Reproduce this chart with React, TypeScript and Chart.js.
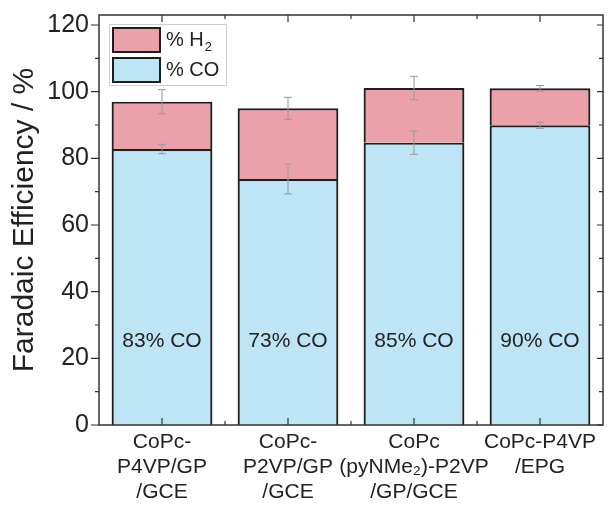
import React, { useEffect, useRef } from "react";
import { Chart, registerables } from "chart.js";

Chart.register(...registerables);

const categories: string[][] = [
  ["CoPc-", "P4VP/GP", "/GCE"],
  ["CoPc-", "P2VP/GP", "/GCE"],
  ["CoPc", "(pyNMe₂)-P2VP", "/GP/GCE"],
  ["CoPc-P4VP", "/EPG"],
];
const coValues = [82.8, 73.8, 84.7, 89.9];
const h2Values = [14.2, 21.2, 16.4, 11.1];
const coErrors = [1.4, 4.5, 3.5, 0.9];
const h2Errors = [3.6, 3.3, 3.5, 0.85];
const barLabels = ["83% CO", "73% CO", "85% CO", "90% CO"];
const barLabelValue = 25;
const yTicks = [0, 20, 40, 60, 80, 100, 120];
const yMinorTicks = [10, 30, 50, 70, 90, 110];

const FONT = '"Liberation Sans", Arial, Helvetica, sans-serif';
const CO_COLOR = "#BEE5F5";
const H2_COLOR = "#EBA1A9";
const EDGE = "#1e1e1e";
const AXIS = "#333333";

const decorPlugin = {
  id: "decor",
  afterDatasetsDraw(chart: any) {
    const ctx = chart.ctx;
    const x = chart.scales.x;
    const y = chart.scales.y;
    const ca = chart.chartArea;
    ctx.save();

    // error bars
    ctx.strokeStyle = "#9a9a9a";
    ctx.lineWidth = 1;
    const drawErr = (i: number, center: number, err: number) => {
      const px = x.getPixelForValue(i);
      const y1 = y.getPixelForValue(center + err);
      const y2 = y.getPixelForValue(center - err);
      ctx.beginPath();
      ctx.moveTo(px, y1);
      ctx.lineTo(px, y2);
      ctx.moveTo(px - 4, y1);
      ctx.lineTo(px + 4, y1);
      ctx.moveTo(px - 4, y2);
      ctx.lineTo(px + 4, y2);
      ctx.stroke();
    };
    coValues.forEach((v, i) => {
      drawErr(i, v, coErrors[i]);
      drawErr(i, v + h2Values[i], h2Errors[i]);
    });

    // in-bar labels
    ctx.fillStyle = "#222";
    ctx.font = `21px ${FONT}`;
    ctx.textAlign = "center";
    ctx.textBaseline = "middle";
    barLabels.forEach((t, i) => {
      ctx.fillText(t, x.getPixelForValue(i), y.getPixelForValue(barLabelValue));
    });

    // frame
    ctx.strokeStyle = AXIS;
    ctx.lineWidth = 1.5;
    ctx.strokeRect(ca.left, ca.top, ca.right - ca.left, ca.bottom - ca.top);

    ctx.lineWidth = 1.2;
    ctx.beginPath();
    yTicks.forEach((v) => {
      const py = y.getPixelForValue(v);
      ctx.moveTo(ca.left - 8, py);
      ctx.lineTo(ca.left, py);
      ctx.moveTo(ca.right, py);
      ctx.lineTo(ca.right - 6, py);
    });
    yMinorTicks.forEach((v) => {
      const py = y.getPixelForValue(v);
      ctx.moveTo(ca.left - 4, py);
      ctx.lineTo(ca.left, py);
      ctx.moveTo(ca.right, py);
      ctx.lineTo(ca.right - 4, py);
    });
    categories.forEach((_, i) => {
      const px = x.getPixelForValue(i);
      ctx.moveTo(px, ca.bottom);
      ctx.lineTo(px, ca.bottom - 7);
      ctx.moveTo(px, ca.top);
      ctx.lineTo(px, ca.top + 7);
      if (i > 0) {
        const bx = (px + x.getPixelForValue(i - 1)) / 2;
        ctx.moveTo(bx, ca.bottom);
        ctx.lineTo(bx, ca.bottom - 4);
        ctx.moveTo(bx, ca.top);
        ctx.lineTo(bx, ca.top + 4);
      }
    });
    ctx.stroke();

    // legend
    const lx = 109, ly = 24, lw = 117, lh = 61;
    ctx.fillStyle = "#ffffff";
    ctx.fillRect(lx, ly, lw, lh);
    ctx.strokeStyle = "#cccccc";
    ctx.lineWidth = 1;
    ctx.strokeRect(lx + 0.5, ly + 0.5, lw, lh);
    const items = [
      { color: H2_COLOR, y: 28, text: "% H", sub: "2" },
      { color: CO_COLOR, y: 58, text: "% CO", sub: "" },
    ];
    items.forEach((it) => {
      ctx.fillStyle = it.color;
      ctx.fillRect(113, it.y, 47, 24);
      ctx.strokeStyle = EDGE;
      ctx.lineWidth = 2;
      ctx.strokeRect(113, it.y, 47, 24);
      ctx.fillStyle = "#222";
      ctx.font = `20px ${FONT}`;
      ctx.textAlign = "left";
      ctx.textBaseline = "middle";
      ctx.fillText(it.text, 166, it.y + 12);
      if (it.sub) {
        const w = ctx.measureText(it.text).width;
        ctx.font = `13px ${FONT}`;
        ctx.fillText(it.sub, 166 + w + 1, it.y + 19);
      }
    });

    // y title
    ctx.save();
    ctx.translate(25, (ca.top + ca.bottom) / 2);
    ctx.rotate(-Math.PI / 2);
    ctx.fillStyle = "#222";
    ctx.font = `30px ${FONT}`;
    ctx.textAlign = "center";
    ctx.textBaseline = "middle";
    ctx.fillText("Faradaic Efficiency / %", 0, 0);
    ctx.restore();

    ctx.restore();
  },
};

export default function App() {
  const ref = useRef<HTMLCanvasElement | null>(null);
  useEffect(() => {
    if (!ref.current) return;
    const chart = new Chart(ref.current, {
      type: "bar",
      data: {
        labels: categories as any,
        datasets: [
          {
            label: "% CO",
            data: coValues,
            backgroundColor: CO_COLOR,
            borderColor: EDGE,
            borderWidth: 2.2,
            borderSkipped: "start",
            categoryPercentage: 1,
            barPercentage: 0.8,
          },
          {
            label: "% H2",
            data: h2Values,
            backgroundColor: H2_COLOR,
            borderColor: EDGE,
            borderWidth: 2.2,
            borderSkipped: "start",
            categoryPercentage: 1,
            barPercentage: 0.8,
          },
        ],
      },
      options: {
        animation: false,
        responsive: true,
        maintainAspectRatio: false,
        layout: { padding: { top: 15, right: 6, left: 0, bottom: 0 } },
        plugins: { legend: { display: false }, tooltip: { enabled: false } },
        scales: {
          x: {
            stacked: true,
            grid: { display: false, drawTicks: false },
            border: { display: false },
            ticks: {
              padding: 5,
              color: "#222",
              maxRotation: 0,
              autoSkip: false,
              font: { family: FONT, size: 21, lineHeight: 1.19 },
            },
            afterFit: (s: any) => {
              s.height = 80;
              s.paddingLeft = 0;
              s.paddingRight = 0;
            },
          },
          y: {
            stacked: true,
            min: 0,
            max: 123,
            grid: { display: false, drawTicks: false },
            border: { display: false },
            ticks: {
              padding: 10,
              color: "#222",
              font: { family: FONT, size: 25 },
            },
            afterBuildTicks: (s: any) => {
              s.ticks = yTicks.map((v) => ({ value: v }));
            },
            afterFit: (s: any) => {
              s.width = 99;
              s.paddingTop = 0;
              s.paddingBottom = 0;
            },
          },
        },
      },
      plugins: [decorPlugin],
    });
    return () => chart.destroy();
  }, []);
  return (
    <div style={{ position: "absolute", left: 0, top: 0, width: 609, height: 505, background: "#fff" }}>
      <canvas ref={ref} />
    </div>
  );
}
